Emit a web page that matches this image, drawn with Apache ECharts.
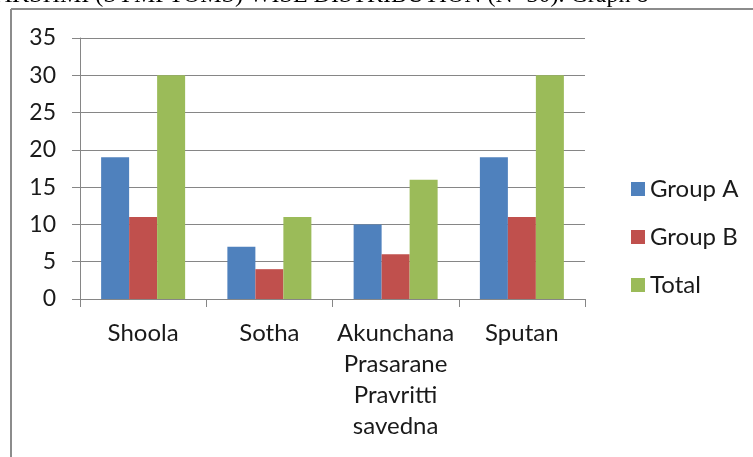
<!DOCTYPE html>
<html>
<head>
<meta charset="utf-8">
<script src="https://cdn.jsdelivr.net/npm/echarts@6/dist/echarts.min.js"></script>
<style>
html,body{margin:0;padding:0;background:#fff;}
#main{width:753px;height:457px;}
</style>
</head>
<body>
<div id="main"></div>
<script>
var categories = ['Shoola', 'Sotha', 'Akunchana\nPrasarane\nPravritti\nsavedna', 'Sputan'];
var groupA = [19, 7, 10, 19];
var groupB = [11, 4, 6, 11];
var total = [30, 11, 16, 30];
var seriesNames = ['Group A', 'Group B', 'Total'];
var yTicks = {min: 0, max: 35, interval: 5};
var headerText = 'LAKSHMI (SYMPTOMS) WISE DISTRIBUTION (N=30). Graph 8';

var FONT = 'Lato';
var chart = echarts.init(document.getElementById('main'), null, {renderer: 'canvas'});
var colors = ['#4F81BD', '#C0504D', '#9BBB59'];
var data = [groupA, groupB, total];
var gray = '#868686';

chart.setOption({
  animation: false,
  backgroundColor: '#fff',
  color: colors,
  grid: {left: 80, right: 168, top: 38, bottom: 158, containLabel: false},
  legend: {
    orient: 'vertical',
    left: 626,
    top: 172,
    itemWidth: 14,
    itemHeight: 14,
    itemGap: 24,
    icon: 'rect',
    textStyle: {fontFamily: FONT, fontSize: 24, color: '#1a1a1a'},
    data: seriesNames
  },
  xAxis: {
    type: 'category',
    data: categories,
    boundaryGap: true,
    axisLine: {show: true, lineStyle: {color: gray, width: 1}},
    axisTick: {show: true, length: 8, interval: 0, lineStyle: {color: gray}},
    axisLabel: {interval: 0, margin: 19, fontFamily: FONT, fontSize: 24, lineHeight: 31, color: '#1a1a1a'},
    splitLine: {show: false}
  },
  yAxis: {
    type: 'value',
    min: yTicks.min,
    max: yTicks.max,
    interval: yTicks.interval,
    axisLine: {show: true, lineStyle: {color: gray, width: 1}},
    axisTick: {show: true, length: 8, lineStyle: {color: gray}},
    axisLabel: {margin: 24, fontFamily: FONT, fontSize: 23, color: '#1a1a1a'},
    splitLine: {show: true, lineStyle: {color: gray, width: 1}}
  },
  series: seriesNames.map(function (n, i) {
    return {
      name: n,
      type: 'bar',
      data: data[i],
      barWidth: 28,
      barGap: '0%',
      itemStyle: {color: colors[i]}
    };
  }),
  graphic: [
    {type: 'text', left: -20, top: -16, style: {text: headerText, font: '24px "Liberation Serif"', fill: '#000'}},
    {type: 'line', shape: {x1: 11, y1: 9, x2: 753, y2: 9}, style: {stroke: '#8c8c8c', lineWidth: 2}},
    {type: 'line', shape: {x1: 11, y1: 9, x2: 11, y2: 457}, style: {stroke: '#8c8c8c', lineWidth: 2}}
  ]
});
</script>
</body>
</html>
